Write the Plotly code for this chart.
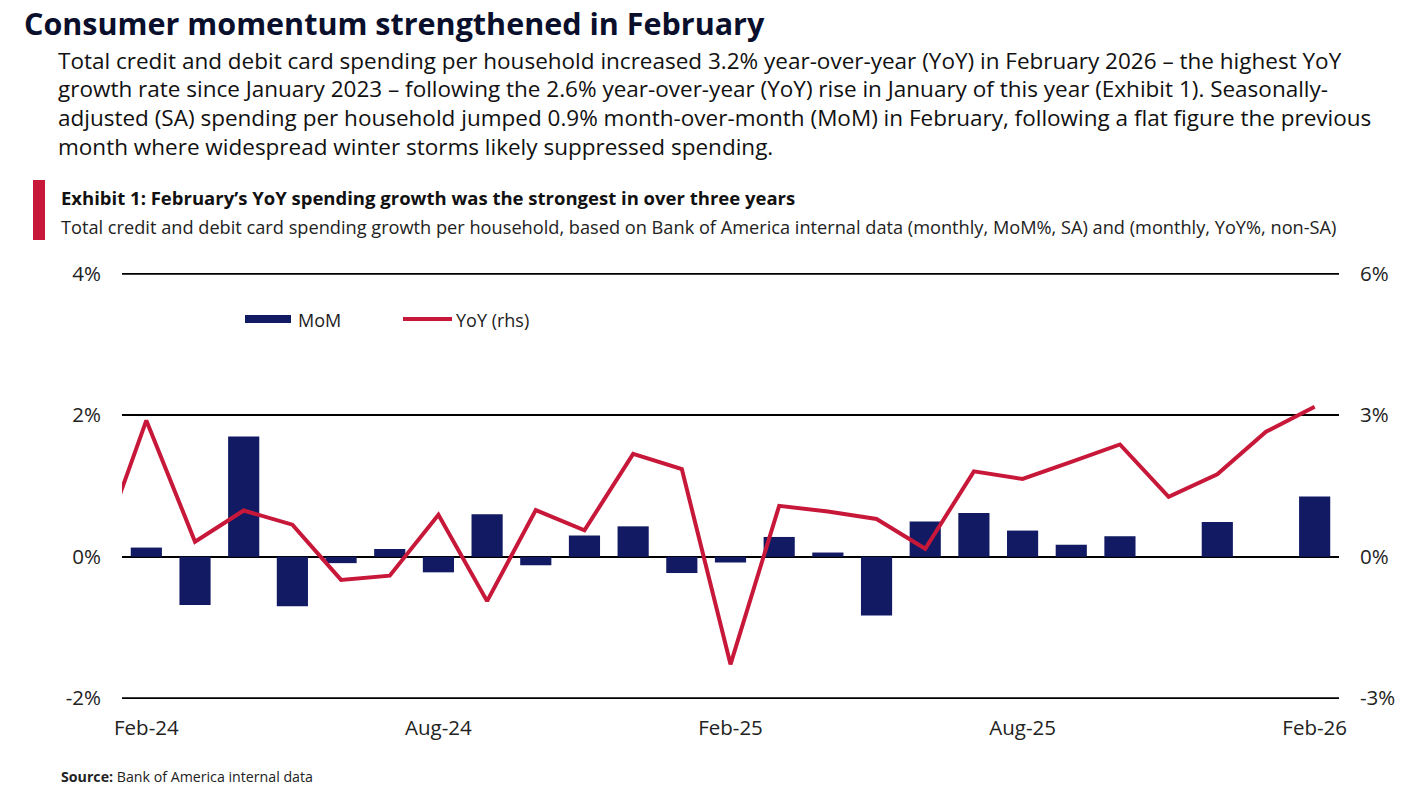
import plotly.graph_objects as go

# monthly data, Jan-24 .. Feb-26 (Jan-24 only feeds the clipped start of the YoY line)
months = ["Jan-24", "Feb-24", "Mar-24", "Apr-24", "May-24", "Jun-24", "Jul-24", "Aug-24",
          "Sep-24", "Oct-24", "Nov-24", "Dec-24", "Jan-25", "Feb-25", "Mar-25", "Apr-25",
          "May-25", "Jun-25", "Jul-25", "Aug-25", "Sep-25", "Oct-25", "Nov-25", "Dec-25",
          "Jan-26", "Feb-26"]
mom = [None, 0.13, -0.68, 1.70, -0.70, -0.09, 0.11, -0.22, 0.60, -0.12, 0.30, 0.43, -0.23,
       -0.08, 0.28, 0.06, -0.83, 0.50, 0.62, 0.37, 0.17, 0.29, 0.0, 0.49, 0.0, 0.85]
yoy = [0.0, 2.89, 0.32, 0.98, 0.68, -0.49, -0.40, 0.89, -0.94, 0.99, 0.56, 2.18, 1.86,
       -2.28, 1.08, 0.96, 0.80, 0.17, 1.81, 1.65, 2.01, 2.38, 1.27, 1.75, 2.65, 3.18]

x_ticks = ["Feb-24", "Aug-24", "Feb-25", "Aug-25", "Feb-26"]
left_ticks = [-2, 0, 2, 4]
left_labels = ["-2%", "0%", "2%", "4%"]
right_ticks = [-3, 0, 3, 6]
right_labels = ["-3%", "0%", "3%", "6%"]

body_lines = [
    "Total credit and debit card spending per household increased 3.2% year-over-year (YoY) in February 2026 \u2013 the highest YoY",
    "growth rate since January 2023 \u2013 following the 2.6% year-over-year (YoY) rise in January of this year (Exhibit 1). Seasonally-",
    "adjusted (SA) spending per household jumped 0.9% month-over-month (MoM) in February, following a flat figure the previous",
    "month where widespread winter storms likely suppressed spending.",
]

NAVY = "#121a64"
RED = "#c8183a"
FONT = "Open Sans, Lato, sans-serif"

W, H = 1423, 793
L, R, T, B = 122, 1339, 273, 699   # plot area in pixels


def px(x):
    return (x - L) / (R - L)


def py(y):
    return (B - y) / (B - T)


fig = go.Figure()
fig.add_trace(go.Bar(x=months, y=mom, name="MoM", marker_color=NAVY,
                     marker_line_width=0, showlegend=False))
fig.add_trace(go.Scatter(x=months, y=yoy, name="YoY (rhs)", yaxis="y2", mode="lines",
                         line=dict(color=RED, width=4), showlegend=False))

annotations = [
    dict(text="<b>Consumer momentum strengthened in February</b>", x=px(22), y=py(23),
         font=dict(size=30.5, color="#0a0f2c")),
]
for i, line in enumerate(body_lines):
    annotations.append(dict(text=line, x=px(56), y=py(60 + i * 28.7),
                            font=dict(size=22.5, color="#111111")))
annotations += [
    dict(text="<b>Exhibit 1: February\u2019s YoY spending growth was the strongest in over three years</b>",
         x=px(59), y=py(197), font=dict(size=18.5, color="#111111")),
    dict(text="Total credit and debit card spending growth per household, based on Bank of America internal data (monthly, MoM%, SA) and (monthly, YoY%, non-SA)",
         x=px(59), y=py(227), font=dict(size=18.2, color="#222222")),
    dict(text="<b>Source:</b> Bank of America internal data", x=px(59), y=py(776),
         font=dict(size=14.2, color="#222222")),
    dict(text="MoM", x=px(296), y=py(320), font=dict(size=18, color="#222222")),
    dict(text="YoY (rhs)", x=px(454), y=py(320), font=dict(size=18, color="#222222")),
]
for a in annotations:
    a.update(xref="paper", yref="paper", xanchor="left", yanchor="middle",
             showarrow=False, align="left")
    a["font"]["family"] = FONT

shapes = [
    # red accent bar next to the exhibit title
    dict(type="rect", xref="paper", yref="paper", x0=px(33), x1=px(45), y0=py(240), y1=py(180),
         fillcolor=RED, line_width=0),
    # legend swatches
    dict(type="rect", xref="paper", yref="paper", x0=px(245), x1=px(291), y0=py(323), y1=py(315),
         fillcolor=NAVY, line_width=0),
    dict(type="line", xref="paper", yref="paper", x0=px(403), x1=px(452), y0=py(319), y1=py(319),
         line=dict(color=RED, width=4)),
]
# plotly skips gridlines sitting on the plot edges, so draw the 4% and -2% rules
for v in (left_ticks[0], left_ticks[-1]):
    shapes.append(dict(type="line", xref="paper", yref="y", x0=0, x1=1, y0=v, y1=v,
                       line=dict(color="black", width=2), layer="below"))

fig.update_layout(
    width=W, height=H,
    margin=dict(l=L, r=W - R, t=T, b=H - B),
    paper_bgcolor="white", plot_bgcolor="white",
    font=dict(family=FONT, size=20.5, color="#222222"),
    bargap=0.36,
    annotations=annotations,
    shapes=shapes,
    xaxis=dict(type="category", range=[0.5, 25.5], tickvals=x_ticks, ticktext=x_ticks,
               showgrid=False, showline=False, zeroline=False, ticks="",
               ticklabelstandoff=14, tickfont=dict(size=20.5)),
    yaxis=dict(range=[-2.01, 4.01], tickvals=left_ticks, ticktext=left_labels,
               showgrid=True, gridcolor="black", gridwidth=2,
               zeroline=True, zerolinecolor="black", zerolinewidth=2,
               showline=False, ticks="", ticklabelstandoff=20, tickfont=dict(size=20.5)),
    yaxis2=dict(range=[-3.015, 6.015], tickvals=right_ticks, ticktext=right_labels,
                overlaying="y", side="right", showgrid=False, zeroline=False,
                showline=False, ticks="", ticklabelstandoff=20, tickfont=dict(size=20.5)),
)

# drop the browser's default 8px body margin so the figure fills the window exactly
fig.write_html("out.html", config={"displayModeBar": False},
               post_script="document.body.style.margin = '0';")
